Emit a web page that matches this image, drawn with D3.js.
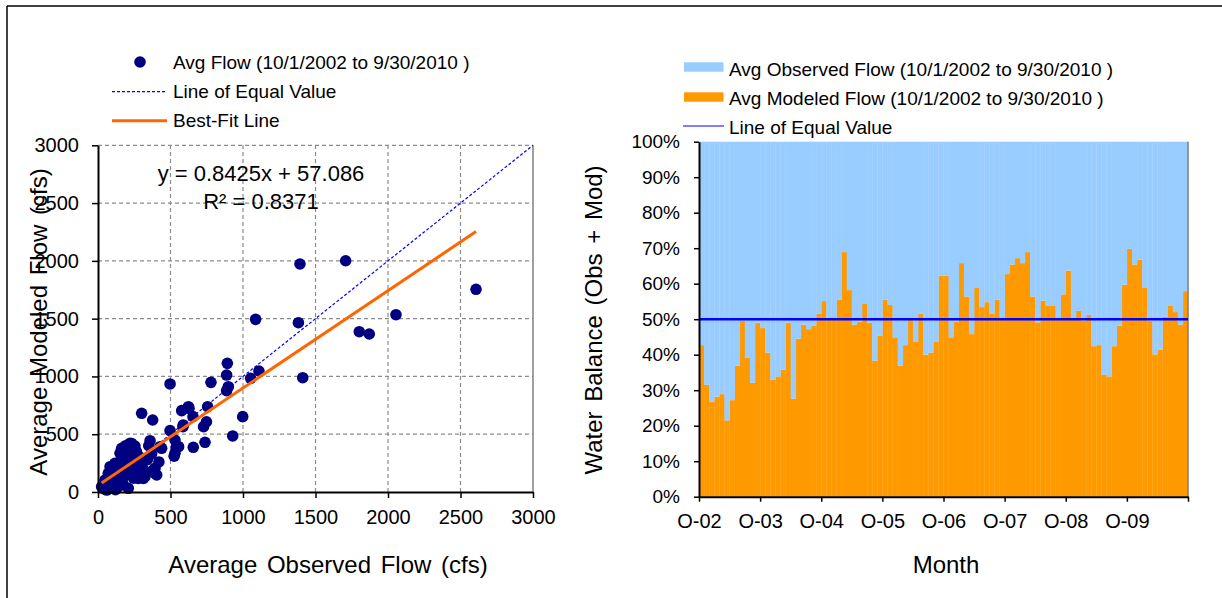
<!DOCTYPE html>
<html><head><meta charset="utf-8">
<script src="https://cdn.jsdelivr.net/npm/d3@7/dist/d3.min.js"></script>
<style>
body{margin:0;background:#fff}
svg{display:block}
text{font-family:"Liberation Sans",Arial,sans-serif;fill:#000}
</style>
</head><body>
<svg id="c" width="1222" height="598"></svg>
<script>
// ---------- DATA ----------
const observedFlow = [1393,1708,2607,1087,1382,2055,1802,1871,1412,497,779,892,887,899,887,1053,1110,623,577,756,998,301,377,929,497,588,531,540,525,657,738,428,359,221,163,255,301,393,405,313,267,728,748,628,655,586,556,531,439,
  25,40,60,48,55,71,83,90,100,110,117,120,130,140,150,152,160,163,170,180,186,190,200,209,209,215,232,240,245,255,265,270,278,290,301,310,324,340,370,381,395,420,232,190,120,75,350];
const modeledFlow = [1973,2001,1754,1494,1465,1534,1387,1367,989,935,949,1113,1012,911,877,984,1047,738,704,738,652,681,623,485,531,580,450,390,310,387,430,392,444,421,378,398,277,205,147,118,190,565,608,724,652,565,392,335,378,
  46,30,17,104,70,162,219,130,60,95,248,180,40,46,140,335,260,190,80,300,392,220,150,32,190,340,277,230,120,190,350,250,118,300,248,200,132,280,330,190,160,260,420,400,20,55,400];
const fitSlope = 0.8425;
const fitIntercept = 57.086;
const fitR2 = 0.8371;
const scatterTicks = [0,500,1000,1500,2000,2500,3000];

// modeled share of (observed + modeled), percent, Oct 2002 .. Sep 2010
const modeledShare = [42.7,31.5,26.8,28.2,28.9,21.5,27.2,36.9,49.5,39.1,32.1,49.0,
  47.5,40.6,33.0,33.9,35.8,49.0,27.6,44.5,48.5,47.2,48.2,51.5,
  55.1,50.2,50.2,55.5,68.9,58.2,48.5,49.3,54.3,49.0,38.3,45.4,
  55.5,54.0,44.9,36.9,42.7,49.8,43.6,51.6,40.0,40.6,43.6,62.3,
  62.3,44.9,49.3,65.8,56.4,45.8,58.8,53.4,54.8,51.5,55.5,50.3,
  62.7,65.4,67.2,65.8,68.9,56.4,49.1,55.2,53.9,53.9,50.2,57.0,
  63.7,50.2,52.4,49.6,51.2,42.4,42.7,34.3,33.9,42.4,48.2,59.7,
  69.8,65.4,66.8,58.8,49.6,40.1,41.4,50.7,53.9,52.0,48.5,57.9];
const equalShare = 0.5;
const monthIndex = d3.range(modeledShare.length);
const yearTickIndex = [0,12,24,36,48,60,72,84,96];
const yearLabels = ["O-02","O-03","O-04","O-05","O-06","O-07","O-08","O-09",""];
const shareTicks = [0,0.1,0.2,0.3,0.4,0.5,0.6,0.7,0.8,0.9,1.0];

const svg = d3.select("#c");

// frame
svg.append("line").attr("x1",7).attr("y1",6).attr("x2",1222).attr("y2",6).attr("stroke","#000").attr("stroke-width",1.5);
svg.append("line").attr("x1",7).attr("y1",6).attr("x2",7).attr("y2",598).attr("stroke","#000").attr("stroke-width",1.5);

// ---------- LEFT: scatter ----------
const xS = d3.scaleLinear().domain([0,3000]).range([98,533]);
const yS = d3.scaleLinear().domain([0,3000]).range([492,145.3]);
const gL = svg.append("g");

// gridlines
gL.selectAll(".vg").data(scatterTicks.slice(1,-1)).join("line")
  .attr("x1",d=>xS(d)).attr("x2",d=>xS(d)).attr("y1",yS(0)).attr("y2",yS(3000))
  .attr("stroke","#8c8c8c").attr("stroke-width",1.2).attr("stroke-dasharray","4,3");
gL.selectAll(".hg").data(scatterTicks.slice(1)).join("line")
  .attr("x1",xS(0)).attr("x2",xS(3000)).attr("y1",d=>yS(d)).attr("y2",d=>yS(d))
  .attr("stroke","#8c8c8c").attr("stroke-width",1.2).attr("stroke-dasharray","4,3");
gL.append("line").attr("x1",xS(3000)).attr("x2",xS(3000)).attr("y1",yS(0)).attr("y2",yS(3000))
  .attr("stroke","#808080").attr("stroke-width",1.5);

// equal value line
gL.append("line").attr("x1",xS(0)).attr("y1",yS(0)).attr("x2",xS(3000)).attr("y2",yS(3000))
  .attr("stroke","#0000ff").attr("stroke-width",1.2).attr("stroke-dasharray","3,2");

// points
const pts = observedFlow.map((o,i)=>({o, m: modeledFlow[i]}));
gL.selectAll("circle.pt").data(pts).join("circle").attr("class","pt")
  .attr("cx",d=>xS(d.o)).attr("cy",d=>yS(d.m)).attr("r",5.8).attr("fill","#000080");

// best fit
const [minO,maxO] = d3.extent(observedFlow);
gL.append("line").attr("x1",xS(minO)).attr("y1",yS(fitSlope*minO+fitIntercept))
  .attr("x2",xS(maxO)).attr("y2",yS(fitSlope*maxO+fitIntercept))
  .attr("stroke","#ff6600").attr("stroke-width",3);

// axes
const axL = gL.append("g").attr("transform",`translate(${xS(0)},0)`)
  .call(d3.axisLeft(yS).tickValues(scatterTicks).tickFormat(d3.format("d")).tickSize(6).tickSizeOuter(0).tickPadding(13));
const axB = gL.append("g").attr("transform",`translate(0,${yS(0)})`)
  .call(d3.axisBottom(xS).tickValues(scatterTicks).tickFormat(d3.format("d")).tickSize(6).tickSizeOuter(0).tickPadding(12));
[axL,axB].forEach(a=>{
  a.select(".domain").attr("stroke","#000").attr("stroke-width",2);
  a.selectAll(".tick line").attr("stroke","#000").attr("stroke-width",1.5);
  a.selectAll("text").attr("font-size",20).attr("font-family","Liberation Sans, Arial, sans-serif").attr("fill","#000");
});

// equation
gL.append("text").attr("x",261).attr("y",180.5).attr("text-anchor","middle").attr("font-size",22)
  .text(`y = ${fitSlope}x + ${fitIntercept}`);
gL.append("text").attr("x",261).attr("y",209).attr("text-anchor","middle").attr("font-size",22)
  .text(`R² = ${fitR2}`);

// titles
gL.append("text").attr("x",328).attr("y",573).attr("text-anchor","middle").attr("font-size",24)
  .attr("word-spacing",3).text("Average Observed Flow (cfs)");
gL.append("text").attr("transform","translate(47,322) rotate(-90)").attr("text-anchor","middle")
  .attr("font-size",24).attr("word-spacing",3).text("Average Modeled Flow (cfs)");

// legend
gL.append("circle").attr("cx",140).attr("cy",62).attr("r",5.8).attr("fill","#000080");
gL.append("text").attr("x",173).attr("y",68.5).attr("font-size",19).text("Avg Flow (10/1/2002 to 9/30/2010 )");
gL.append("line").attr("x1",112).attr("x2",167).attr("y1",91.7).attr("y2",91.7)
  .attr("stroke","#0000ff").attr("stroke-width",1.2).attr("stroke-dasharray","3,2");
gL.append("text").attr("x",173).attr("y",98).attr("font-size",19).text("Line of Equal Value");
gL.append("line").attr("x1",112).attr("x2",167).attr("y1",120.7).attr("y2",120.7)
  .attr("stroke","#ff6600").attr("stroke-width",3);
gL.append("text").attr("x",173).attr("y",127).attr("font-size",19).text("Best-Fit Line");

// ---------- RIGHT: stacked share bars ----------
const xM = d3.scaleLinear().domain([0,modeledShare.length]).range([699,1188]);
const yP = d3.scaleLinear().domain([0,1]).range([496.7,141.7]);
const gR = svg.append("g");

const rows = monthIndex.map(i=>({i, mod: modeledShare[i]/100, obs: 1 - modeledShare[i]/100}));
const stack = d3.stack().keys(["mod","obs"])(rows);
const fills = {mod:"#ff9900", obs:"#99ccff"};
gR.selectAll("g.layer").data(stack).join("g").attr("class","layer")
  .attr("fill",d=>fills[d.key])
  .selectAll("rect").data(d=>d).join("rect")
  .attr("x",d=>xM(d.data.i)).attr("width",d=>xM(d.data.i+1)-xM(d.data.i)+0.3)
  .attr("y",d=>yP(d[1])).attr("height",d=>yP(d[0])-yP(d[1]));

// right border
gR.append("line").attr("x1",xM(96)).attr("x2",xM(96)).attr("y1",yP(0)).attr("y2",yP(1))
  .attr("stroke","#808080").attr("stroke-width",1.5);

// equal value line at 50%
gR.append("line").attr("x1",xM(0)).attr("x2",xM(96)).attr("y1",yP(equalShare)).attr("y2",yP(equalShare))
  .attr("stroke","#0000ff").attr("stroke-width",2.5);

const axRL = gR.append("g").attr("transform",`translate(${xM(0)},0)`)
  .call(d3.axisLeft(yP).tickValues(shareTicks).tickFormat(d3.format(".0%")).tickSize(5).tickSizeOuter(0).tickPadding(14));
const axRB = gR.append("g").attr("transform",`translate(0,${yP(0)})`)
  .call(d3.axisBottom(xM).tickValues(yearTickIndex).tickFormat((d,i)=>yearLabels[i]).tickSize(5).tickSizeOuter(0).tickPadding(12));
[axRL,axRB].forEach(a=>{
  a.select(".domain").attr("stroke","#000").attr("stroke-width",2);
  a.selectAll(".tick line").attr("stroke","#000").attr("stroke-width",1.5);
  a.selectAll("text").attr("font-size",19).attr("font-family","Liberation Sans, Arial, sans-serif").attr("fill","#000");
});
axRB.selectAll("text").attr("font-size",20);

gR.append("text").attr("x",946).attr("y",573).attr("text-anchor","middle").attr("font-size",24).text("Month");
gR.append("text").attr("transform","translate(602,320) rotate(-90)").attr("text-anchor","middle")
  .attr("font-size",24).attr("word-spacing",3).text("Water Balance (Obs + Mod)");

// legend
gR.append("rect").attr("x",684).attr("y",62.3).attr("width",39.5).attr("height",9.4).attr("fill","#99ccff");
gR.append("text").attr("x",729).attr("y",75.5).attr("font-size",19).text("Avg Observed Flow (10/1/2002 to 9/30/2010 )");
gR.append("rect").attr("x",684).attr("y",92.3).attr("width",39.5).attr("height",9.4).attr("fill","#ff9900");
gR.append("text").attr("x",729).attr("y",104.7).attr("font-size",19).text("Avg Modeled Flow (10/1/2002 to 9/30/2010 )");
gR.append("line").attr("x1",683).attr("x2",724).attr("y1",126).attr("y2",126).attr("stroke","#0000ff").attr("stroke-width",1.2);
gR.append("text").attr("x",729).attr("y",134.4).attr("font-size",19).text("Line of Equal Value");
</script>
</body></html>
